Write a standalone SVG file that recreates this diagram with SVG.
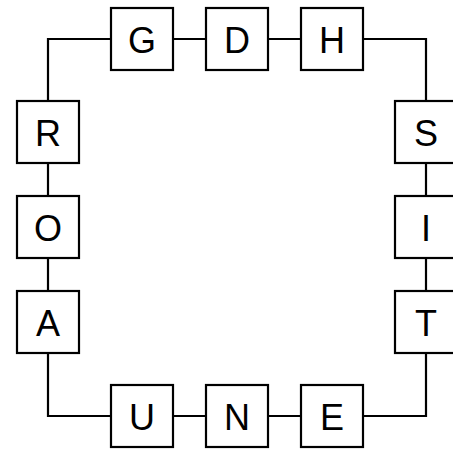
<svg xmlns="http://www.w3.org/2000/svg" width="453" height="454" viewBox="0 0 453 454">
<style>
.box rect{fill:#fff;stroke:#000;stroke-width:2.2}
.box text{font-family:"Liberation Sans",Arial,sans-serif;font-size:36px;fill:#000;text-anchor:middle;dominant-baseline:central}
.conn{fill:none;stroke:#000;stroke-width:2.2}
</style>
<rect width="453" height="454" fill="#fff"/>
<g id="connectors" class="conn">
<polyline points="111,39 48,39 48,101"/>
<line x1="173" y1="39" x2="206" y2="39"/>
<line x1="268" y1="39" x2="301" y2="39"/>
<polyline points="363,39 426,39 426,101"/>
<line x1="48" y1="163" x2="48" y2="196"/>
<line x1="48" y1="258" x2="48" y2="291"/>
<polyline points="48,353 48,416 111,416"/>
<line x1="426" y1="163" x2="426" y2="196"/>
<line x1="426" y1="258" x2="426" y2="291"/>
<polyline points="426,353 426,416 363,416"/>
<line x1="173" y1="416" x2="206" y2="416"/>
<line x1="268" y1="416" x2="301" y2="416"/>
</g>
<g id="G" class="box"><rect x="111" y="8" width="62" height="62"/><text x="142" y="40">G</text></g>
<g id="D" class="box"><rect x="206" y="8" width="62" height="62"/><text x="237" y="40">D</text></g>
<g id="H" class="box"><rect x="301" y="8" width="62" height="62"/><text x="332" y="40">H</text></g>
<g id="R" class="box"><rect x="17" y="101" width="62" height="62"/><text x="48" y="133">R</text></g>
<g id="O" class="box"><rect x="17" y="196" width="62" height="62"/><text x="48" y="228">O</text></g>
<g id="A" class="box"><rect x="17" y="291" width="62" height="62"/><text x="48" y="323">A</text></g>
<g id="S" class="box"><rect x="395" y="101" width="62" height="62"/><text x="426" y="133">S</text></g>
<g id="I" class="box"><rect x="395" y="196" width="62" height="62"/><text x="426" y="228">I</text></g>
<g id="T" class="box"><rect x="395" y="291" width="62" height="62"/><text x="426" y="323">T</text></g>
<g id="U" class="box"><rect x="111" y="385" width="62" height="62"/><text x="142" y="417">U</text></g>
<g id="N" class="box"><rect x="206" y="385" width="62" height="62"/><text x="237" y="417">N</text></g>
<g id="E" class="box"><rect x="301" y="385" width="62" height="62"/><text x="332" y="417">E</text></g>
</svg>
